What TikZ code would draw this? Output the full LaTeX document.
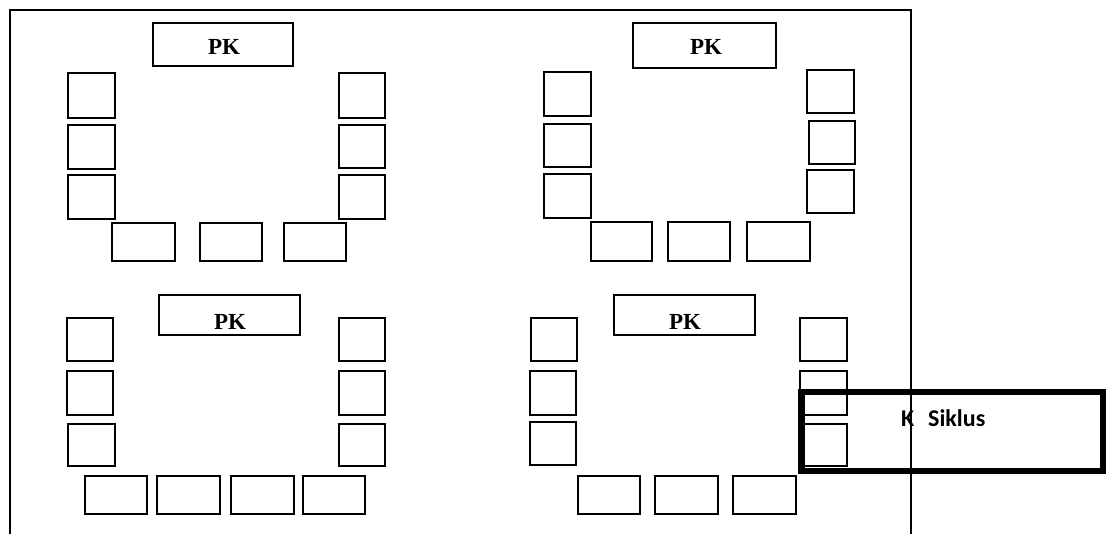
\documentclass[tikz,border=0pt]{standalone}
\usepackage{fontspec}
\newfontfamily\pkfont{Liberation Serif}
\newfontfamily\calfont{Carlito}
\tikzset{
  seat/.style={draw, line width=1.3pt, inner sep=0pt, outer sep=0pt},
  pkbox/.style={draw, line width=1.4pt, inner sep=0pt, outer sep=0pt},
  pklabel/.style={font=\pkfont\fontsize{23pt}{23pt}\selectfont\bfseries, inner sep=0pt, anchor=base},
  sikluslabel/.style={font=\calfont\fontsize{24pt}{24pt}\selectfont\bfseries, inner sep=0pt, anchor=base west},
  frame/.style={line width=1.3pt},
  thickbox/.style={draw, line width=6.5pt, inner sep=0pt, outer sep=0pt}
}
\newcommand\bx[6][seat]{\node[#1, minimum width={(#5-#3)*1pt}, minimum height={(#6-#4)*1pt}] (#2) at ({(#3+#5)/2},{(#4+#6)/2}) {};}
\begin{document}
\begin{tikzpicture}[x=1pt,y=-1pt]
\useasboundingbox[fill=white] (0,0) rectangle (1107,534);
% outer frame (open at bottom)
\coordinate (fbl) at (10,534);
\coordinate (ftl) at (10,10);
\coordinate (ftr) at (911,10);
\coordinate (fbr) at (911,534);
% ---------- top-left group
\bx[pkbox]{pkA}{153}{23}{293}{66}
\node[pklabel] (pkAt) at (224,54.5) {PK};
\bx{a1}{68}{73}{115}{118}
\bx{a2}{68}{125}{115}{169}
\bx{a3}{68}{175}{115}{219}
\bx{a4}{339}{73}{385}{118}
\bx{a5}{339}{125}{385}{168}
\bx{a6}{339}{175}{385}{219}
\bx{a7}{112}{223}{175}{261}
\bx{a8}{200}{223}{262}{261}
\bx{a9}{284}{223}{346}{261}
% ---------- top-right group
\bx[pkbox]{pkB}{633}{23}{776}{68}
\node[pklabel] (pkBt) at (706,55) {PK};
\bx{b1}{544}{72}{591}{116}
\bx{b2}{544}{124}{591}{167}
\bx{b3}{544}{174}{591}{218}
\bx{b4}{807}{70}{854}{113}
\bx{b5}{809}{121}{855}{164}
\bx{b6}{807}{170}{854}{213}
\bx{b7}{591}{222}{652}{261}
\bx{b8}{668}{222}{730}{261}
\bx{b9}{747}{222}{810}{261}
% ---------- bottom-left group
\bx[pkbox]{pkC}{159}{295}{300}{335}
\node[pklabel] (pkCt) at (230,329) {PK};
\bx{c1}{67}{318}{113}{361}
\bx{c2}{67}{371}{113}{415}
\bx{c3}{68}{424}{115}{466}
\bx{c4}{339}{318}{385}{361}
\bx{c5}{339}{371}{385}{415}
\bx{c6}{339}{424}{385}{466}
\bx{c7}{85}{476}{147}{514}
\bx{c8}{157}{476}{220}{514}
\bx{c9}{231}{476}{294}{514}
\bx{c10}{303}{476}{365}{514}
% ---------- bottom-right group
\bx[pkbox]{pkD}{614}{295}{755}{335}
\node[pklabel] (pkDt) at (685,329) {PK};
\bx{d1}{531}{318}{577}{361}
\bx{d2}{530}{371}{576}{415}
\bx{d3}{530}{422}{576}{465}
\bx{d4}{800}{318}{847}{361}
\bx{d5}{800}{371}{847}{415}
\bx{d6}{800}{424}{847}{466}
\bx{d7}{578}{476}{640}{514}
\bx{d8}{655}{476}{718}{514}
\bx{d9}{733}{476}{796}{514}
% ---------- K Siklus box
\bx[thickbox]{ks}{801.5}{392}{1103}{471}
\node[sikluslabel] (ksK) at (901,426) {K};
\node[sikluslabel] (ksS) at (928,426) {Siklus};
\draw[frame] (fbl) -- (ftl) -- (ftr) -- (fbr);
\end{tikzpicture}
\end{document}
